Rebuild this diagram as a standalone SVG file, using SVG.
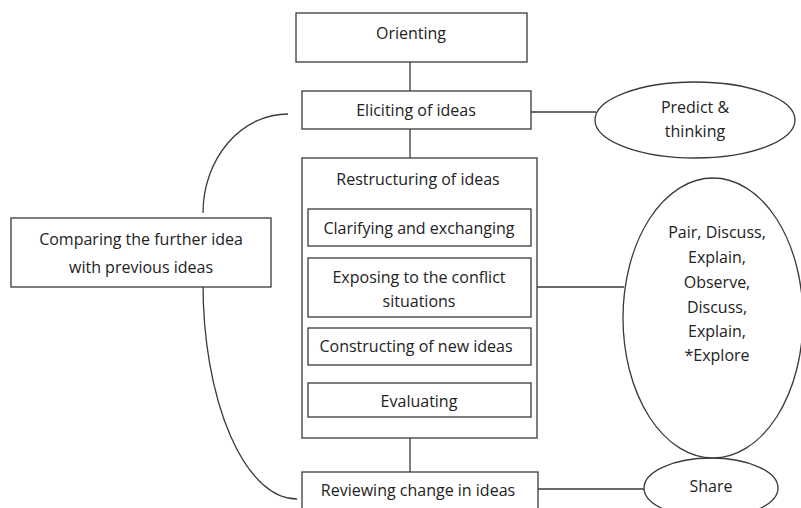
<svg xmlns="http://www.w3.org/2000/svg" width="801" height="508" viewBox="0 0 801 508">
<style>
.box{fill:#fff;stroke:#3a3a3a;stroke-width:1.3}
.ln{fill:none;stroke:#3a3a3a;stroke-width:1.3}
text{font-family:"Open Sans","Liberation Sans",sans-serif;font-size:16px;fill:#222;text-anchor:middle;dominant-baseline:central}
</style>
<rect width="801" height="508" fill="#fff"/>
<g id="connectors">
<line class="ln" x1="410" y1="62" x2="410" y2="91"/>
<line class="ln" x1="531" y1="112" x2="596" y2="112"/>
<line class="ln" x1="410" y1="129" x2="410" y2="158"/>
<line class="ln" x1="537" y1="287" x2="624" y2="287"/>
<line class="ln" x1="410" y1="438" x2="410" y2="472"/>
<line class="ln" x1="538" y1="489" x2="645" y2="489"/>
<path class="ln" d="M203,213 A85,99 0 0 1 288,114"/>
<path class="ln" d="M203,284 A94,215 0 0 0 297,499"/>
</g>
<g id="orienting"><rect class="box" x="296" y="13" width="231" height="49"/><text x="411" y="33">Orienting</text></g>
<g id="eliciting"><rect class="box" x="302" y="91" width="229" height="38"/><text x="416" y="110">Eliciting of ideas</text></g>
<g id="predict"><ellipse class="box" cx="695" cy="120" rx="100" ry="38"/><text x="695" y="107">Predict &amp;</text><text x="695" y="131">thinking</text></g>
<g id="restructuring"><rect class="box" x="302" y="158" width="235" height="280"/><text x="418" y="179">Restructuring of ideas</text></g>
<g id="clarifying"><rect class="box" x="308" y="209" width="223" height="37"/><text x="419" y="228">Clarifying and exchanging</text></g>
<g id="exposing"><rect class="box" x="308" y="258" width="223" height="59"/><text x="419" y="277">Exposing to the conflict</text><text x="419" y="301">situations</text></g>
<g id="constructing"><rect class="box" x="308" y="328" width="223" height="37"/><text x="416" y="346">Constructing of new ideas</text></g>
<g id="evaluating"><rect class="box" x="308" y="383" width="223" height="34"/><text x="419" y="401">Evaluating</text></g>
<g id="reviewing"><rect class="box" x="302" y="472" width="236" height="45"/><text x="418" y="490">Reviewing change in ideas</text></g>
<g id="share"><ellipse class="box" cx="711" cy="488" rx="67" ry="30"/><text x="711" y="486">Share</text></g>
<g id="activities"><ellipse class="box" cx="713" cy="318" rx="90" ry="140"/>
<text x="717" y="232">Pair, Discuss,</text><text x="717" y="257">Explain,</text><text x="717" y="282">Observe,</text><text x="717" y="307">Discuss,</text><text x="717" y="331">Explain,</text><text x="717" y="355">*Explore</text></g>
<g id="comparing"><rect class="box" x="11" y="218" width="260" height="69"/><text x="141" y="239">Comparing the further idea</text><text x="141" y="267">with previous ideas</text></g>
</svg>
